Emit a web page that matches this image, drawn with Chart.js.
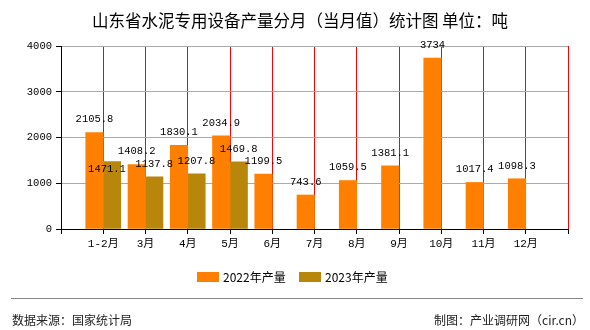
<!DOCTYPE html>
<html>
<head>
<meta charset="utf-8">
<script src="https://cdn.jsdelivr.net/npm/chart.js@4/dist/chart.umd.min.js"></script>
</head>
<body style="margin:0">
<canvas id="c" width="590" height="330"></canvas>
<script>
// ---- data ----
const categories = ['1-2月','3月','4月','5月','6月','7月','8月','9月','10月','11月','12月'];
const series2022 = [2105.8,1408.2,1830.1,2034.9,1199.5,743.6,1059.5,1381.1,3734,1017.4,1098.3];
const series2023 = [1471.1,1137.8,1207.8,1469.8,null,null,null,null,null,null,null];
const seriesNames = ['2022年产量','2023年产量'];
const yTicks = [0,1000,2000,3000,4000];
const titleText = '山东省水泥专用设备产量分月（当月值）统计图 单位：吨';
const sourceText = '数据来源：国家统计局';
const makerText = '制图：产业调研网（cir.cn）';

const axisLabels = [''].concat(categories, ['']);
const padArr = arr => [null].concat(arr, [null]);
const barColors = ['#ff8000','#b8860b'];
const monoFont = '"Liberation Mono","DejaVu Sans Mono","Noto Sans CJK SC",monospace';
const cjkFont = '"Noto Sans CJK SC","DejaVu Sans",sans-serif';

const fmt = v => (Number.isInteger(v) ? String(v) : v.toFixed(1));

const decorPlugin = {
  id: 'decor',
  afterDatasetsDraw(chart) {
    const ctx = chart.ctx;
    ctx.save();
    ctx.font = '10.5px ' + monoFont;
    ctx.fillStyle = '#000';
    ctx.textAlign = 'center';
    ctx.textBaseline = 'middle';
    chart.data.datasets.forEach((ds, di) => {
      const meta = chart.getDatasetMeta(di);
      meta.data.forEach((bar, i) => {
        const v = ds.data[i];
        if (v === null || v === undefined) return;
        let x = bar.x, y = bar.y - 13;
        if (di === 1 && i === 1) { x -= 5; y = bar.y + 8; }
        ctx.fillText(fmt(v), x, y);
      });
    });
    ctx.restore();
  },
  afterDraw(chart) {
    const ctx = chart.ctx;
    ctx.save();
    ctx.fillStyle = '#000';
    ctx.font = '16.5px ' + cjkFont;
    ctx.textAlign = 'center';
    ctx.textBaseline = 'middle';
    ctx.fillText(titleText, 300, 20.5);
    ctx.font = '12px ' + cjkFont;
    ctx.textAlign = 'left';
    const lx = [197, 299];
    seriesNames.forEach((n, k) => {
      ctx.fillStyle = barColors[k];
      ctx.fillRect(lx[k], 272, 22, 10);
      ctx.fillStyle = '#000';
      ctx.fillText(n, lx[k] + 26, 277);
    });
    ctx.strokeStyle = '#888';
    ctx.lineWidth = 1;
    ctx.beginPath();
    ctx.moveTo(11, 298.5);
    ctx.lineTo(583, 298.5);
    ctx.stroke();
    ctx.fillStyle = '#222';
    ctx.font = '12px ' + cjkFont;
    ctx.textAlign = 'left';
    ctx.fillText(sourceText, 12, 320);
    ctx.textAlign = 'right';
    ctx.fillText(makerText, 584, 320);
    ctx.restore();
  }
};

new Chart(document.getElementById('c'), {
  type: 'bar',
  data: {
    labels: axisLabels,
    datasets: [
      { label: seriesNames[0], data: padArr(series2022), backgroundColor: barColors[0], barThickness: 17.5 },
      { label: seriesNames[1], data: padArr(series2023), backgroundColor: barColors[1], barThickness: 17.5 }
    ]
  },
  options: {
    responsive: false,
    devicePixelRatio: 1,
    animation: false,
    layout: { padding: { left: 0, right: 22, top: 46, bottom: 71 } },
    plugins: { legend: { display: false }, title: { display: false }, tooltip: { enabled: false } },
    scales: {
      x: {
        offset: false,
        grid: { offset: false, color: 'red', lineWidth: 1, tickColor: '#000', tickLength: 5 },
        border: { color: '#000', width: 1 },
        ticks: { color: '#000', font: { family: monoFont, size: 11 }, padding: 3, maxRotation: 0, autoSkip: false },
        afterFit(s) { s.height = 30; }
      },
      y: {
        min: 0, max: 4000,
        afterBuildTicks(s) { s.ticks = yTicks.map(v => ({ value: v })); },
        grid: { color: '#aaaaaa', lineWidth: 1, tickColor: '#000', tickLength: 5 },
        border: { color: '#000', width: 1 },
        ticks: { color: '#000', font: { family: monoFont, size: 10.5 }, padding: 4, callback: v => String(v) },
        afterFit(s) { s.width = 61; }
      }
    }
  },
  plugins: [decorPlugin]
});
</script>
</body>
</html>
